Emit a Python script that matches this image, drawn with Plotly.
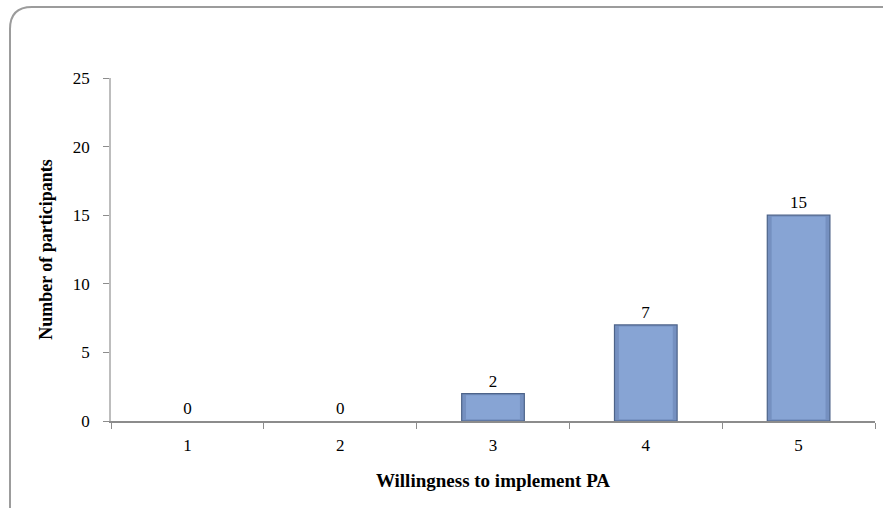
import plotly.graph_objects as go

# Survey responses: willingness rating vs. number of participants
ratings = ["1", "2", "3", "4", "5"]
participants = [0, 0, 2, 7, 15]
y_ticks = [0, 5, 10, 15, 20, 25]

W, H = 883, 508
L, R, T, B = 111, 8, 78, 87
pw, ph = W - L - R, H - T - B


def px_x(x):
    return (x - L) / pw


def px_y(y):
    return (H - B - y) / ph


BAR_W = 0.41
fig = go.Figure()
# outer bar body (darker rim)
fig.add_trace(go.Bar(
    x=ratings,
    y=participants,
    width=BAR_W,
    marker=dict(color="#7590C0",
                line=dict(color="#4D6389",
                          width=[1.2 if v > 0 else 0 for v in participants])),
    text=[str(v) for v in participants],
    textposition="outside",
    cliponaxis=False,
    textfont=dict(family="Liberation Serif", size=17, color="#000000"),
    hoverinfo="x+y",
))
# inner face, slightly lighter, inset from the rim for a bevelled look
inset = 0.12
fig.add_trace(go.Bar(
    x=ratings,
    y=[max(v - 2 * inset, 0) for v in participants],
    base=[inset if v > 0 else 0 for v in participants],
    width=BAR_W * 0.86,
    marker=dict(color="#87A4D4", line=dict(width=0)),
    hoverinfo="skip",
))

# rounded frame around the chart area (top-left corner visible)
x0, y0 = px_x(10), px_y(7)
rx, ry = 22 / pw, 22 / ph
frame = (f"M {x0},{px_y(520)} L {x0},{y0 - ry} "
         f"Q {x0},{y0} {x0 + rx},{y0} L {px_x(895)},{y0}")
fig.add_shape(type="path", path=frame, xref="paper", yref="paper",
              line=dict(color="#9C9C9C", width=2))

fig.update_layout(
    width=W, height=H,
    margin=dict(l=L, r=R, t=T, b=B),
    paper_bgcolor="white", plot_bgcolor="white",
    showlegend=False,
    barmode="overlay",
    font=dict(family="Liberation Serif", size=17, color="#000000"),
    xaxis=dict(
        type="category",
        showline=True, linecolor="#8C8C8C", linewidth=1.5,
        ticks="outside", tickson="boundaries", ticklen=6, tickcolor="#8C8C8C",
        ticklabelstandoff=8,
        tickfont=dict(size=17),
        title=dict(text="<b>Willingness to implement PA</b>", standoff=20,
                   font=dict(size=19)),
        showgrid=False,
    ),
    yaxis=dict(
        range=[0, 25], tickvals=y_ticks,
        showline=True, linecolor="#BDBDBD", linewidth=1.5,
        ticks="outside", ticklen=6, tickcolor="#8C8C8C",
        ticklabelstandoff=10,
        tickfont=dict(size=17),
        title=dict(text="<b>Number of participants</b>", standoff=16,
                   font=dict(size=18)),
        showgrid=False, zeroline=False,
    ),
)

fig.write_html("out.html")
